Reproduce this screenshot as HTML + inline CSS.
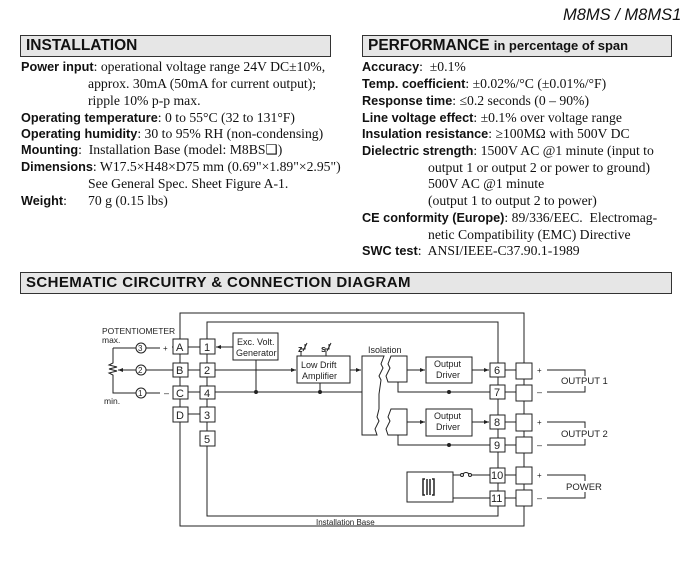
<!DOCTYPE html>
<html><head><meta charset="utf-8"><style>
body{margin:0;width:687px;height:563px;background:#fff;position:relative;overflow:hidden;font-family:"Liberation Serif",serif;color:#111}
.t{position:absolute;white-space:nowrap;font-size:13.7px;line-height:17px}
.b{font-family:"Liberation Sans",sans-serif;font-weight:bold;font-size:12.7px}
.hd{position:absolute;background:#e6e6e6;border:1.5px solid #333;box-sizing:border-box;font-family:"Liberation Sans",sans-serif;font-weight:bold;font-size:15.5px;line-height:19px;padding-left:5px}
</style></head><body>
<div class="t" style="left:563px;top:5px;font-family:'Liberation Sans',sans-serif;font-style:italic;font-size:16.5px;line-height:20px">M8MS / M8MS1</div>
<div class="hd" style="left:20px;top:35px;width:311px;height:22px">INSTALLATION</div>
<div class="hd" style="left:362px;top:35px;width:310px;height:22px">PERFORMANCE <span style="font-size:13px">in percentage of span</span></div>
<div class="hd" style="left:20px;top:272px;width:652px;height:22px;font-size:15px;letter-spacing:0.4px">SCHEMATIC CIRCUITRY &amp; CONNECTION DIAGRAM</div>

<div class="t" style="left:21px;top:58px"><span class="b">Power input</span>: operational voltage range 24V DC±10%,</div>
<div class="t" style="left:88px;top:75px">approx. 30mA (50mA for current output);</div>
<div class="t" style="left:88px;top:92px">ripple 10% p-p max.</div>
<div class="t" style="left:21px;top:109px"><span class="b">Operating temperature</span>: 0 to 55°C (32 to 131°F)</div>
<div class="t" style="left:21px;top:125px"><span class="b">Operating humidity</span>: 30 to 95% RH (non-condensing)</div>
<div class="t" style="left:21px;top:141px"><span class="b">Mounting</span>:&nbsp; Installation Base (model: M8BS❑)</div>
<div class="t" style="left:21px;top:158px"><span class="b">Dimensions</span>: W17.5×H48×D75 mm (0.69"×1.89"×2.95")</div>
<div class="t" style="left:88px;top:175px">See General Spec. Sheet Figure A-1.</div>
<div class="t" style="left:21px;top:192px"><span class="b">Weight</span>:</div>
<div class="t" style="left:88px;top:192px">70 g (0.15 lbs)</div>

<div class="t" style="left:362px;top:58px"><span class="b">Accuracy</span>:&nbsp; ±0.1%</div>
<div class="t" style="left:362px;top:75px"><span class="b">Temp. coefficient</span>: ±0.02%/°C (±0.01%/°F)</div>
<div class="t" style="left:362px;top:92px"><span class="b">Response time</span>: ≤0.2 seconds (0 – 90%)</div>
<div class="t" style="left:362px;top:109px"><span class="b">Line voltage effect</span>: ±0.1% over voltage range</div>
<div class="t" style="left:362px;top:125px"><span class="b">Insulation resistance</span>: ≥100MΩ with 500V DC</div>
<div class="t" style="left:362px;top:142px"><span class="b">Dielectric strength</span>: 1500V AC @1 minute (input to</div>
<div class="t" style="left:428px;top:159px">output 1 or output 2 or power to ground)</div>
<div class="t" style="left:428px;top:175px">500V AC @1 minute</div>
<div class="t" style="left:428px;top:192px">(output 1 to output 2 to power)</div>
<div class="t" style="left:362px;top:209px"><span class="b">CE conformity (Europe)</span>: 89/336/EEC.&nbsp; Electromag-</div>
<div class="t" style="left:428px;top:226px">netic Compatibility (EMC) Directive</div>
<div class="t" style="left:362px;top:242px"><span class="b">SWC test</span>:&nbsp; ANSI/IEEE-C37.90.1-1989</div>

<svg width="687" height="563" style="position:absolute;left:0;top:0" font-family="Liberation Sans,sans-serif" font-size="9" fill="none" stroke="#222" stroke-width="1">
<defs><marker id="a" markerWidth="6" markerHeight="6" refX="5" refY="3" orient="auto"><path d="M0,1 L5,3 L0,5z" fill="#222" stroke="none"/></marker></defs>
<rect x="180" y="313" width="344" height="213"/>
<rect x="207" y="322" width="291" height="194"/>
<path d="M113,348 H136 M146,348 H160 M172,347 H188 M188,347 H200 M113,348 V363 l-4,2 8,2 -8,2 8,2 -8,2 4,2 V393 H136 M146,393 H160 M146,370 H173 M188,370 H200 M188,392 H200 M188,414 H200"/>
<path d="M136,370 H118" marker-end="url(#a)"/>
<circle cx="141" cy="348" r="5"/><circle cx="141" cy="370" r="5"/><circle cx="141" cy="393" r="5"/>
<g fill="#fff">
<rect x="173" y="339" width="15" height="15"/><rect x="173" y="363" width="15" height="14"/><rect x="173" y="386" width="15" height="13"/><rect x="173" y="407" width="15" height="15"/>
<rect x="200" y="339" width="15" height="15"/><rect x="200" y="363" width="15" height="14"/><rect x="200" y="386" width="15" height="13"/><rect x="200" y="407" width="15" height="15"/><rect x="200" y="431" width="15" height="15"/>
</g>
<path d="M180,354 V363 M180,377 V386 M180,399 V407 M207,354 V363 M207,377 V386 M207,399 V407 M207,422 V431"/>
<path d="M233,347 H216" marker-end="url(#a)"/>
<rect x="233" y="333" width="45" height="27"/>
<path d="M215,370 H296" marker-end="url(#a)"/>
<rect x="297" y="356" width="53" height="27"/>
<path d="M215,392 H362 M256,360 V392 M320,383 V392"/>
<circle cx="256" cy="392" r="1.5" fill="#222"/><circle cx="320" cy="392" r="1.5" fill="#222"/>
<path d="M350,370 H361" marker-end="url(#a)"/>
<path d="M362,356 H384 l-3,8 2,4 -4,8 2,4 -2,14 V409 l-2,8 2,4 -4,8 2,6 H362 Z"/>
<path d="M407,356 H391 l-3,8 2,4 -4,8 2,6 H407 Z M407,409 H391 l-3,8 2,4 -4,8 2,6 H407 Z"/>
<path d="M398,382 V392 H490 M398,435 V445 H490"/>
<circle cx="449" cy="392" r="1.5" fill="#222"/><circle cx="449" cy="445" r="1.5" fill="#222"/>
<path d="M407,370 H425" marker-end="url(#a)"/><path d="M407,422 H425" marker-end="url(#a)"/>
<rect x="426" y="357" width="46" height="26"/><rect x="426" y="409" width="46" height="27"/>
<path d="M472,370 H489" marker-end="url(#a)"/><path d="M472,422 H489" marker-end="url(#a)"/>
<rect x="407" y="472" width="46" height="30"/>
<path d="M427,479 V495 M430,479 V495 M425,479 H423 V495 H425 M432,479 H434 V495 H432" stroke-width="1.5"/>
<path d="M453,475 H462 M470,475 H490 M462,475 q4,-5 8,0"/>
<circle cx="462" cy="475" r="1.5" fill="#fff"/><circle cx="470" cy="475" r="1.5" fill="#fff"/>
<path d="M453,498 H490"/>
<g fill="#fff">
<rect x="490" y="363" width="15" height="14"/><rect x="490" y="385" width="15" height="14"/><rect x="490" y="415" width="15" height="14"/><rect x="490" y="438" width="15" height="14"/><rect x="490" y="468" width="15" height="15"/><rect x="490" y="491" width="15" height="15"/>
</g>
<path d="M498,377 V385 M498,399 V415 M498,429 V438 M498,452 V468 M498,483 V491 M524,379 V385 M524,401 V414 M524,431 V437 M524,453 V467 M524,484 V490"/>
<path d="M505,370 H516 M505,392 H516 M505,422 H516 M505,445 H516 M505,475 H516 M505,498 H516"/>
<g fill="#fff">
<rect x="516" y="363" width="16" height="16"/><rect x="516" y="385" width="16" height="16"/><rect x="516" y="414" width="16" height="17"/><rect x="516" y="437" width="16" height="16"/><rect x="516" y="467" width="16" height="17"/><rect x="516" y="490" width="16" height="16"/>
</g>
<path d="M547,370 H585 V376 M547,392 H585 V386 M547,422 H585 V428 M547,445 H585 V439 M547,475 H585 V481 M547,498 H585 V492"/>
<g fill="#222" stroke="none">
<text x="102" y="334" font-size="8.5">POTENTIOMETER</text><text x="102" y="343" font-size="8.5">max.</text><text x="104" y="404" font-size="8.5">min.</text>
<text x="138" y="351" font-size="8">3</text><text x="138" y="373" font-size="8">2</text><text x="138" y="396" font-size="8">1</text>
<text x="163" y="351" font-size="8">+</text><text x="164" y="396" font-size="9">–</text>
<text x="176" y="351" font-size="11">A</text><text x="176" y="374" font-size="11">B</text><text x="176" y="397" font-size="11">C</text><text x="176" y="419" font-size="11">D</text>
<text x="204" y="351" font-size="11">1</text><text x="204" y="374" font-size="11">2</text><text x="204" y="397" font-size="11">4</text><text x="204" y="419" font-size="11">3</text><text x="204" y="443" font-size="11">5</text>
<text x="237" y="345">Exc. Volt.</text><text x="236" y="356">Generator</text>
<text x="301" y="368">Low Drift</text><text x="302" y="379">Amplifier</text>
<text x="298" y="352" font-weight="bold">z</text><text x="321" y="352" font-weight="bold">s</text>
<text x="368" y="353">Isolation</text>
<text x="434" y="367">Output</text><text x="436" y="378">Driver</text>
<text x="434" y="419">Output</text><text x="436" y="430">Driver</text>
<text x="494" y="374" font-size="11">6</text><text x="494" y="396" font-size="11">7</text><text x="494" y="426" font-size="11">8</text><text x="494" y="449" font-size="11">9</text><text x="491" y="479" font-size="11">10</text><text x="491" y="502" font-size="11">11</text>
<text x="537" y="373" font-size="8">+</text><text x="537" y="395">–</text><text x="537" y="425" font-size="8">+</text><text x="537" y="448">–</text><text x="537" y="478" font-size="8">+</text><text x="537" y="501">–</text>
<text x="561" y="384" font-size="9.5">OUTPUT 1</text><text x="561" y="437" font-size="9.5">OUTPUT 2</text><text x="566" y="490" font-size="9.5">POWER</text>
<text x="316" y="525" font-size="8">Installation Base</text>
</g>
<path d="M303,351 l4,-8 M301,349 h4 v-5"/><path d="M327,351 l4,-8 M325,349 h4 v-5"/>
<path d="M301,351 V356 M326,351 V356"/>
</svg>
</body></html>
